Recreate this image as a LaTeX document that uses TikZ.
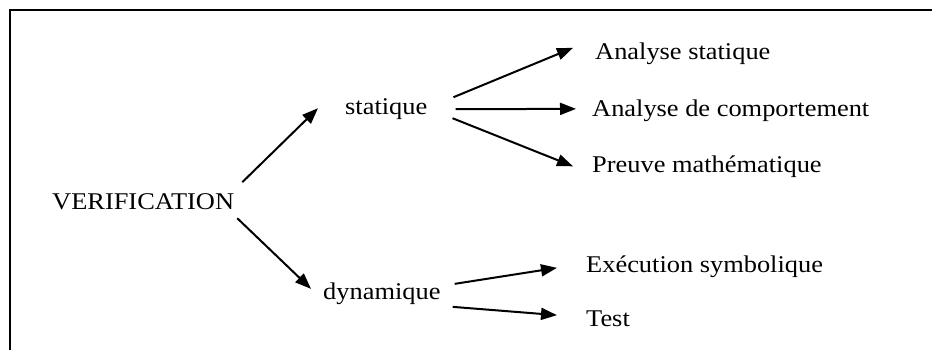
\documentclass[tikz,border=0pt]{standalone}
\usepackage{fontspec}
\setmainfont{Liberation Serif}[FakeStretch=1.1]
\usetikzlibrary{arrows.meta}

\begin{document}
\begin{tikzpicture}[x=1pt, y=1pt, font=\fontsize{24}{28}\selectfont,
  every node/.style={inner sep=0pt, anchor=base west},
  arr/.style={line width=2pt, -{Triangle[length=16pt, width=12pt]}}]
  \useasboundingbox (0,0) rectangle (932,350);
  \draw[line width=2.5pt] (10,0) -- (10,340) -- (932,340);

  \node (verif) at (52,140) {VERIFICATION};
  \node (stat) at (345,235) {statique};
  \node (dyn) at (323,50) {dynamique};
  \node (as) at (595,290) {Analyse statique};
  \node (ac) at (592,233) {Analyse de comportement};
  \node (pm) at (592,177) {Preuve mathématique};
  \node (exe) at (586,77) {Exécution symbolique};
  \node (test) at (586,23) {Test};

  \path[arr]
  ([shift={(8,20)}]verif.east) edge ([shift={(-27,1.4)}]stat.west)
  ([shift={(3,-16)}]verif.east) edge ([shift={(-12,5.4)}]dyn.west)
  ([shift={(26,12.4)}]stat.east) edge ([shift={(-22,6.4)}]as.west)
  ([shift={(28,0.4)}]stat.east) edge ([shift={(-16,2.4)}]ac.west)
  ([shift={(25,-8.6)}]stat.east) edge ([shift={(-19,0.9)}]pm.west)
  ([shift={(14,10.4)}]dyn.east) edge ([shift={(-29,-0.6)}]exe.west)
  ([shift={(12,-12.6)}]dyn.east) edge ([shift={(-29,4.1)}]test.west);
\end{tikzpicture}
\end{document}
